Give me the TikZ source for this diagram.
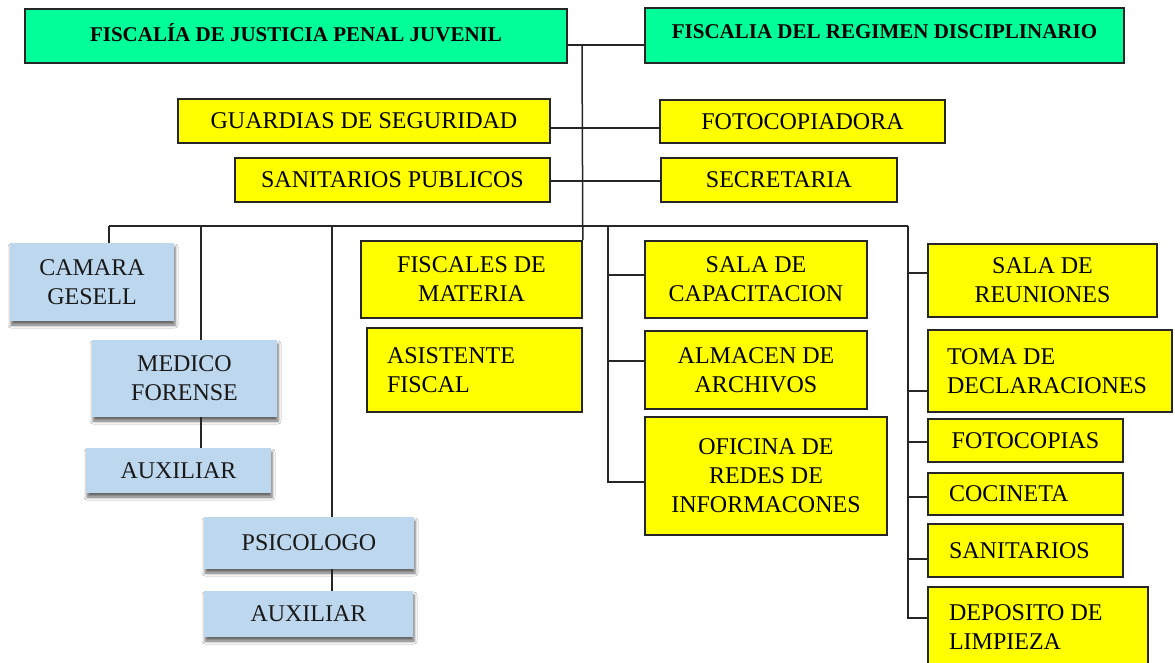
\documentclass[tikz,border=0pt]{standalone}
\usepackage{fontspec}
\setmainfont{Liberation Serif}
\usetikzlibrary{shadows.blur}
\definecolor{titlegreen}{RGB}{0,255,153}
\definecolor{paleblue}{RGB}{189,215,238}
\definecolor{boxyellow}{RGB}{255,255,0}
\begin{document}
\begin{tikzpicture}[x=1pt,y=-1pt,
  base/.style={inner sep=0pt, align=center, font=\fontsize{24}{29}\selectfont},
  gbox/.style={base, draw=black!85, line width=1.4pt, fill=titlegreen, text depth=7pt, font=\fontsize{21}{25}\selectfont\bfseries},
  ybox/.style={base, draw=black!85, line width=1.6pt, fill=boxyellow},
  lbox/.style={ybox, align=flush left},
  bbox/.style={base, fill=paleblue, text=black!90, blur shadow={shadow xshift=1pt, shadow yshift=-4pt, shadow blur radius=3pt, shadow opacity=60}},
  conn/.style={draw=black!85, line width=1.5pt},
]
\useasboundingbox[fill=white] (0,0) rectangle (1175,662);

% top
\node[gbox, minimum width=542pt, minimum height=54pt] (b1) at (296,36) {FISCALÍA DE JUSTICIA PENAL JUVENIL};
\node[gbox, minimum width=479pt, minimum height=55pt] (b2) at (884.5,35.5) {FISCALIA DEL REGIMEN DISCIPLINARIO};

\node[ybox, minimum width=372pt, minimum height=44pt] (guard) at (364,121) {GUARDIAS DE SEGURIDAD};
\node[ybox, minimum width=285pt, minimum height=43pt] (foto) at (802.5,121.5) {FOTOCOPIADORA};
\node[ybox, minimum width=315pt, minimum height=44pt] (sanpub) at (392.5,180) {SANITARIOS PUBLICOS};
\node[ybox, minimum width=236pt, minimum height=44pt] (secre) at (779,180) {SECRETARIA};

% blue
\node[bbox, minimum width=164pt, minimum height=78pt] (camara) at (92,282) {CAMARA\\GESELL};
\node[bbox, minimum width=185pt, minimum height=77pt] (medico) at (184.5,378.5) {MEDICO\\FORENSE};
\node[bbox, minimum width=185pt, minimum height=45pt] (aux1) at (178.5,470.5) {AUXILIAR};
\node[bbox, minimum width=210pt, minimum height=52pt] (psico) at (309,543) {PSICOLOGO};
\node[bbox, minimum width=209pt, minimum height=46pt] (aux2) at (308.5,614) {AUXILIAR};

% middle
\node[ybox, minimum width=221pt, minimum height=77pt] (fisc) at (471.5,279.5) {FISCALES DE\\MATERIA};
\node[lbox, minimum width=215pt, minimum height=84pt, text width=175pt] (asis) at (474.5,370) {ASISTENTE\\FISCAL};

\node[ybox, minimum width=222pt, minimum height=77pt] (capac) at (756,279.5) {SALA DE\\CAPACITACION};
\node[ybox, minimum width=222pt, minimum height=78pt] (almac) at (756,370) {ALMACEN DE\\ARCHIVOS};
\node[ybox, minimum width=242pt, minimum height=118pt] (ofi) at (766,476) {OFICINA DE\\REDES DE\\INFORMACONES};

% right
\node[ybox, minimum width=229pt, minimum height=73pt] (sala) at (1042.5,280.5) {SALA DE\\REUNIONES};
\node[lbox, minimum width=244pt, minimum height=82pt, text width=206pt] (toma) at (1050,371) {TOMA DE\\DECLARACIONES};
\node[ybox, minimum width=195pt, minimum height=43pt] (fcop) at (1025.5,440.5) {FOTOCOPIAS};
\node[lbox, minimum width=195pt, minimum height=42pt, text width=153pt] (coci) at (1025.5,494) {COCINETA};
\node[lbox, minimum width=195pt, minimum height=53pt, text width=153pt] (sani) at (1025.5,550.5) {SANITARIOS};
\node[lbox, minimum width=220pt, minimum height=81pt, text width=178pt] (depo) at (1038,627.5) {DEPOSITO DE\\LIMPIEZA};

% connectors
\coordinate (t0) at (582,45);
\coordinate (busL) at (109,226);
\coordinate (bm) at (201,226);
\coordinate (bp) at (332,226);
\coordinate (sm) at (608,226);
\coordinate (sr) at (908,226);

\draw[conn] ([yshift=-9pt]b1.east) -- ([yshift=-9.5pt]b2.west);
\draw[conn] (t0) -- (fisc.north east);
\draw[conn] ([yshift=-7pt]guard.east) -- ([yshift=-6.5pt]foto.west);
\draw[conn] ([yshift=-1pt]sanpub.east) -- ([yshift=-1pt]secre.west);

\draw[conn] (busL) -- (sr);
\draw[conn] (busL) -- (busL |- camara.north);
\draw[conn] (bm) -- (bm |- medico.north);
\draw[conn] (bm |- medico.south) -- (bm |- aux1.north);
\draw[conn] (bp) -- (bp |- psico.north);
\draw[conn] (bp |- psico.south) -- (bp |- aux2.north);

\draw[conn] (sm) |- ([yshift=-6pt]ofi.west);
\draw[conn] ([yshift=4.5pt]capac.west) -| (sm);
\draw[conn] ([yshift=9pt]almac.west) -| (sm);

\draw[conn] (sr) |- ([yshift=9.5pt]depo.west);
\draw[conn] ([yshift=7.5pt]sala.west) -| (sr);
\draw[conn] ([yshift=-20pt]toma.west) -| (sr);
\draw[conn] ([yshift=-1.5pt]fcop.west) -| (sr);
\draw[conn] ([yshift=-3pt]coci.west) -| (sr);
\draw[conn] ([yshift=-8.5pt]sani.west) -| (sr);
\end{tikzpicture}
\end{document}
